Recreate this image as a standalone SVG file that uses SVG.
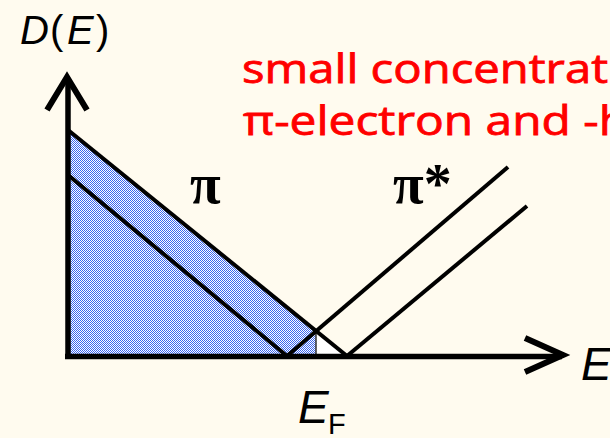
<svg xmlns="http://www.w3.org/2000/svg" width="610" height="438" viewBox="0 0 610 438">
  <defs>
    <pattern id="dots" x="0" y="0" width="2" height="2" patternUnits="userSpaceOnUse">
      <rect width="2" height="2" fill="#ffffff"/>
      <rect width="1" height="1" fill="#3a66f0"/>
      <rect x="1" y="1" width="1" height="1" fill="#3a66f0"/>
    </pattern>
  </defs>
  <style>
    .ln { stroke: #000; stroke-width: 4; fill: none; stroke-linecap: butt; }
    .ax { stroke: #000; stroke-width: 5.5; fill: none; }
    .head { stroke: #000; stroke-width: 6; fill: none; stroke-linejoin: miter; }
    .lab { font-family: "Liberation Sans", Arial, sans-serif; font-style: italic; fill: #000; }
    .greek { font-family: "Liberation Serif", "Times New Roman", serif; font-weight: bold; fill: #000; font-size: 56px; }
    .red { font-family: "Open Sans", "DejaVu Sans", sans-serif; fill: #ff0000; font-size: 40px; stroke: #ff0000; stroke-width: 0.8; }
  </style>
  <rect width="610" height="438" fill="#fffbef"/>

  <g id="filled-region">
    <polygon points="68,130 316,330 316,356 68,356" fill="url(#dots)"/>
    <polygon points="316,330 347,356 316,356" fill="#ffffff"/>
    <line x1="316" y1="330" x2="316" y2="356" stroke="#333" stroke-width="1.5"/>
  </g>

  <g id="connectors">
    <line class="ln" x1="68" y1="130" x2="347" y2="356"/>
    <line class="ln" x1="68" y1="175" x2="287" y2="356"/>
    <line class="ln" x1="287" y1="356" x2="508" y2="167"/>
    <line class="ln" x1="347" y1="356" x2="527" y2="206"/>
  </g>

  <g id="axes">
    <line class="ax" x1="68" y1="78" x2="68" y2="359"/>
    <line class="ax" x1="65" y1="356.5" x2="562" y2="356.5"/>
    <polyline class="head" points="47,110 67,77 87,110"/>
    <polyline class="head" points="525,338 563,355 525,372"/>
  </g>

  <g id="label-DE">
    <text class="lab" y="44" font-size="40"><tspan x="20">D</tspan><tspan x="50" font-style="normal">(</tspan><tspan x="67">E</tspan><tspan x="96" font-style="normal">)</tspan></text>
  </g>
  <g id="label-E">
    <text class="lab" x="581" y="380" font-size="46">E</text>
  </g>
  <g id="label-EF">
    <text class="lab" x="298" y="423" font-size="46">E<tspan font-style="normal" font-size="29" x="328" y="434">F</tspan></text>
  </g>
  <g id="label-pi">
    <text class="greek" x="190" y="203">π</text>
  </g>
  <g id="label-pistar">
    <text class="greek" x="393" y="203">π*</text>
  </g>
  <g id="note">
    <text class="red" x="242" y="83" textLength="366" lengthAdjust="spacingAndGlyphs">small concentrat</text>
    <text class="red" x="243" y="135" textLength="385" lengthAdjust="spacingAndGlyphs">π-electron and -h</text>
  </g>
</svg>
